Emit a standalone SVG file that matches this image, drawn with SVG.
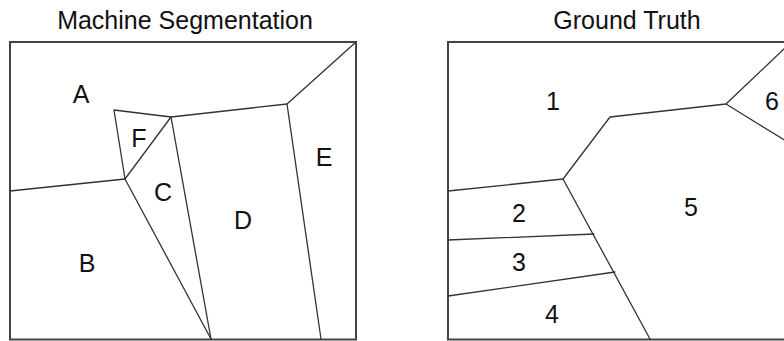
<svg xmlns="http://www.w3.org/2000/svg" width="784" height="341" viewBox="0 0 784 341">
  <style>
    .title { font-family: "Liberation Sans", Arial, sans-serif; font-size: 25px; fill: #111; text-anchor: middle; }
    .label { font-family: "Liberation Sans", Arial, sans-serif; font-size: 25px; fill: #111; text-anchor: middle; }
    .frame { fill: none; stroke: #444; stroke-width: 2; }
    .edge { fill: none; stroke: #333; stroke-width: 1.3; stroke-linejoin: round; stroke-linecap: round; }
  </style>
  <rect width="784" height="341" fill="#fff"/>

  <!-- Left panel: machine segmentation -->
  <g id="machine-panel">
    <text class="title" x="185" y="29">Machine Segmentation</text>
    <rect class="frame" x="10" y="42" width="346" height="297.5"/>
  </g>
  <g id="machine-boundaries">
    <polyline class="edge" points="356,42 287,104 171,117 114,110 125,179 10,191"/>
    <line class="edge" x1="171" y1="117" x2="125" y2="179"/>
    <line class="edge" x1="125" y1="179" x2="211" y2="339"/>
    <line class="edge" x1="171" y1="117" x2="211" y2="339"/>
    <line class="edge" x1="287" y1="104" x2="321" y2="339"/>
  </g>
  <g id="region-A"><text class="label" x="81" y="103">A</text></g>
  <g id="region-F"><text class="label" x="139" y="147">F</text></g>
  <g id="region-C"><text class="label" x="163" y="201">C</text></g>
  <g id="region-D"><text class="label" x="243" y="229">D</text></g>
  <g id="region-E"><text class="label" x="324" y="166">E</text></g>
  <g id="region-B"><text class="label" x="87" y="272">B</text></g>

  <!-- Right panel: ground truth -->
  <g id="truth-panel">
    <text class="title" x="627" y="29">Ground Truth</text>
    <rect class="frame" x="448" y="42" width="400" height="297.5"/>
  </g>
  <g id="truth-boundaries">
    <polyline class="edge" points="786,47 726,104 610,117 563,179 448,191"/>
    <line class="edge" x1="726" y1="104" x2="786" y2="141"/>
    <line class="edge" x1="563" y1="179" x2="650" y2="339"/>
    <line class="edge" x1="448" y1="240" x2="594" y2="234"/>
    <line class="edge" x1="448" y1="296" x2="615" y2="272"/>
  </g>
  <g id="region-1"><text class="label" x="553" y="110">1</text></g>
  <g id="region-6"><text class="label" x="772" y="110">6</text></g>
  <g id="region-2"><text class="label" x="519" y="222">2</text></g>
  <g id="region-3"><text class="label" x="519" y="271">3</text></g>
  <g id="region-4"><text class="label" x="552" y="323">4</text></g>
  <g id="region-5"><text class="label" x="691" y="216">5</text></g>
</svg>
